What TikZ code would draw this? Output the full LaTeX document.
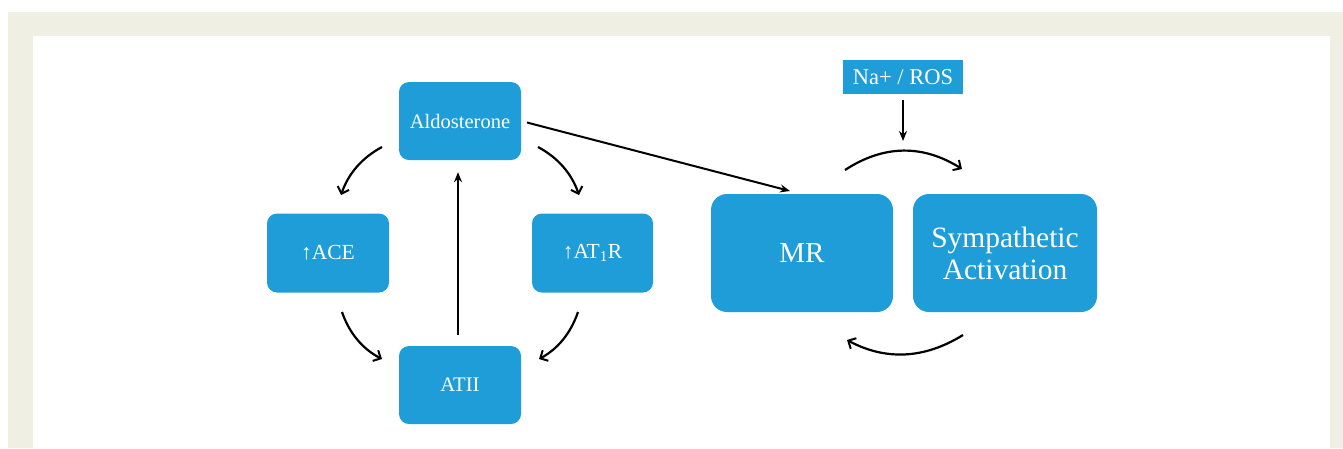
\documentclass[tikz,border=0pt]{standalone}
\usepackage{fontspec}
\setmainfont{Liberation Serif}
\usetikzlibrary{arrows.meta}
\definecolor{boxblue}{RGB}{30,157,216}
\definecolor{beige}{RGB}{239,239,228}
\tikzset{
  bluebox/.style={fill=boxblue, text=white, rounded corners=10pt, inner sep=0pt, align=center},
  curvearrow/.style={line width=2.2pt, -{Straight Barb[length=6pt,width=12pt,line width=2pt]}},
  straightarrow/.style={line width=2pt, -{Stealth[length=10pt,width=8pt]}}
}
\begin{document}
\begin{tikzpicture}[x=1pt,y=-1pt]
\useasboundingbox (0,0) rectangle (1343,448);
\fill[white] (0,0) rectangle (1343,448);
\fill[beige] (8,12) rectangle (1343,448);
\fill[white] (33,36) rectangle (1330,448);

% left cycle
\node[bluebox, minimum width=122pt, minimum height=78pt, font=\fontsize{20.5}{24}\selectfont] (aldo) at (460,121) {Aldosterone};
\node[bluebox, minimum width=122pt, minimum height=79pt, font=\fontsize{21.5}{25}\selectfont] (ace) at (328,253) {↑ACE};
\node[bluebox, minimum width=121pt, minimum height=79pt, font=\fontsize{21.5}{25}\selectfont] (at1r) at (592.5,253) {↑AT\textsubscript{1}R};
\node[bluebox, minimum width=122pt, minimum height=78pt, font=\fontsize{20.7}{24}\selectfont] (atii) at (460,385) {ATII};

% right part
\node[fill=boxblue, text=white, minimum width=120pt, minimum height=34pt, inner sep=0pt, font=\fontsize{22.5}{26}\selectfont] (na) at (903,77) {Na+ / ROS};
\node[bluebox, rounded corners=16pt, minimum width=182pt, minimum height=118pt, font=\fontsize{29}{33}\selectfont] (mr) at (802,253) {MR};
\node[bluebox, rounded corners=16pt, minimum width=184pt, minimum height=118pt, font=\fontsize{29.5}{32}\selectfont] (symp) at (1005,253) {Sympathetic\\Activation};

% coordinates for free arrow ends
\coordinate (a1s) at (382,147); \coordinate (a1e) at (341,195);
\coordinate (a2s) at (538,147); \coordinate (a2e) at (579,195);
\coordinate (a3s) at (342,312); \coordinate (a3e) at (382,359);
\coordinate (a4s) at (578,312); \coordinate (a4e) at (539,359);
\coordinate (mrin) at (790,191);
\coordinate (nae) at (903,141);
\coordinate (t1s) at (845,170); \coordinate (t1e) at (962,169);
\coordinate (b1s) at (963,335); \coordinate (b1e) at (847,340);

\draw[curvearrow] (a1s) .. controls (362,157.7) and (348.3,173.7) .. (a1e);
\draw[curvearrow] (a2s) .. controls (558,157.7) and (571.7,173.7) .. (a2e);
\draw[curvearrow] (a3s) .. controls (349.3,333.3) and (362.7,349) .. (a3e);
\draw[curvearrow] (a4s) .. controls (570.7,333.3) and (557.7,349) .. (a4e);

\draw[straightarrow, shorten <=11pt, shorten >=12pt] ([xshift=-2pt]atii.north) -- ([xshift=-2pt]aldo.south);
\draw[straightarrow, shorten <=6pt] (aldo.east) -- (mrin);
\draw[straightarrow, shorten <=6pt] (na.south) -- (nae);

\draw[curvearrow] (t1s) .. controls (883.7,144.7) and (922.7,144.3) .. (t1e);
\draw[curvearrow] (b1s) .. controls (924.3,359) and (885.7,360.7) .. (b1e);
\end{tikzpicture}
\end{document}
